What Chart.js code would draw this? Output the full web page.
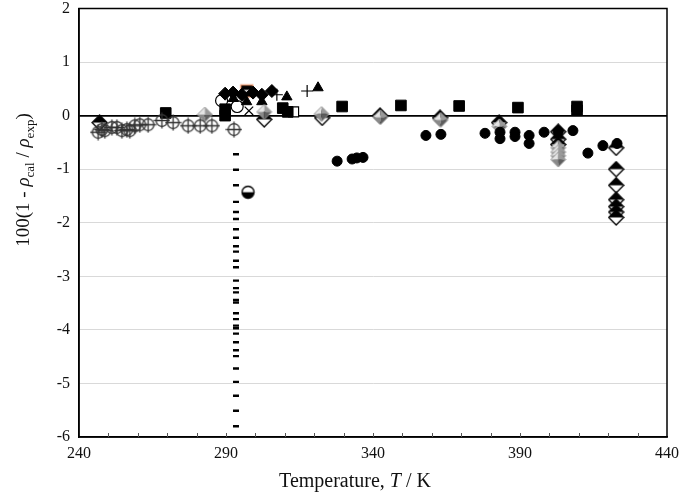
<!DOCTYPE html>
<html>
<head>
<meta charset="utf-8">
<script src="https://cdn.jsdelivr.net/npm/chart.js@4"></script>
<style>
  html, body { margin: 0; padding: 0; background: #fff; }
  #wrap { width: 679px; height: 496px; }
</style>
</head>
<body>
<div id="wrap"><canvas id="myChart" width="679" height="496"></canvas></div>
<script>
// axis ticks
var xTicks = [240, 290, 340, 390, 440];
var yTicks = [-6, -5, -4, -3, -2, -1, 0, 1, 2];

// crossed circles
var crossT = [246.5, 247.8, 248.8, 251.2, 252.9, 254.6, 256.3, 257.3, 259.0, 260.7, 263.5, 268.2, 272.0, 277.1, 281.2, 285.2, 292.7];
var crossDev = [-0.31, -0.26, -0.28, -0.22, -0.22, -0.28, -0.26, -0.28, -0.19, -0.17, -0.17, -0.09, -0.13, -0.19, -0.19, -0.19, -0.26];

// diamonds, top half black
var halfDiaT = [247, 303, 322.7, 342.4, 362.8, 382.9, 403, 403, 403, 422.7, 422.7, 422.7, 422.7, 422.7, 422.7, 422.7];
var halfDiaDev = [-0.13, -0.07, -0.04, 0.0, -0.04, -0.13, -0.3, -0.44, -0.54, -0.6, -1.0, -1.3, -1.57, -1.7, -1.8, -1.9];

// grey shaded diamonds
var greyDiaT = [282.8, 303, 322.5, 342.5, 363, 383, 403, 403, 403, 403];
var greyDiaDev = [0.02, 0.07, 0.03, -0.03, -0.08, -0.2, -0.6, -0.68, -0.75, -0.82];

// filled squares
var squareT = [269.5, 289.7, 289.7, 309.3, 311, 329.5, 349.5, 369.3, 389.3, 409.4, 409.4];
var squareDev = [0.05, 0.0, 0.12, 0.14, 0.07, 0.17, 0.19, 0.18, 0.15, 0.1, 0.17];

// open square
var openSqT = [313];
var openSqDev = [0.07];

// filled diamonds
var diaT = [289.7, 292.4, 295.4, 299.2, 302.2, 305.6];
var diaDev = [0.41, 0.43, 0.39, 0.43, 0.39, 0.46];

// triangles
var triT = [292.5, 297, 302.2, 310.7, 321.3];
var triDev = [0.32, 0.26, 0.26, 0.35, 0.52];

// plus and x
var plusT = [307.3, 317.6];
var plusDev = [0.39, 0.46];
var xT = [297.8];
var xDev = [0.09];

// open circles, half circle, orange marker
var openCirT = [288.5, 293.8];
var openCirDev = [0.28, 0.17];
var halfCirT = [297.5];
var halfCirDev = [-1.43];
var orangeT = [297.1];
var orangeDev = [0.46];

// filled circles
var circleT = [327.8, 332.9, 334.5, 336.6, 358, 363.1, 378.1, 383.2, 383.2, 388.3, 388.3, 393.1, 393.1, 398.2, 403, 408, 413.1, 418.2, 423];
var circleDev = [-0.85, -0.81, -0.79, -0.78, -0.37, -0.35, -0.33, -0.31, -0.43, -0.31, -0.39, -0.37, -0.52, -0.31, -0.3, -0.28, -0.7, -0.56, -0.52];

// dashes
var dashT = [293.4, 293.4, 293.4, 293.4, 293.4, 293.4, 293.4, 293.4, 293.4, 293.4, 293.4, 293.4, 293.4, 293.4, 293.4,
             293.4, 293.4, 293.4, 293.4, 293.4, 293.4, 293.4, 293.4, 293.4, 293.4, 293.4, 293.4, 293.4, 293.4, 293.4];
var dashDev = [-0.72, -1.01, -1.30, -1.61, -1.80, -1.93, -2.12, -2.28, -2.44, -2.54, -2.71, -2.83, -3.08, -3.22, -3.30,
               -3.44, -3.49, -3.69, -3.80, -3.92, -3.97, -4.07, -4.23, -4.38, -4.49, -4.72, -4.97, -5.23, -5.51, -5.80];

function pts(ts, ds) {
    return ts.map(function (t, i) { return {x: t, y: ds[i]}; });
}

function marker(size, draw) {
    var c = document.createElement('canvas');
    c.width = size; c.height = size;
    draw(c.getContext('2d'), size / 2, size);
    return c;
}

var crossCircle = marker(17, function (g, c, s) {
    g.strokeStyle = '#333';
    g.lineWidth = 1.3;
    g.beginPath(); g.arc(c, c, 5.8, 0, Math.PI * 2); g.stroke();
    g.beginPath();
    g.moveTo(0.5, c); g.lineTo(s - 0.5, c);
    g.moveTo(c, 0.5); g.lineTo(c, s - 0.5);
    g.stroke();
});

function diamondPath(g, c, s) {
    g.beginPath();
    g.moveTo(c, 1); g.lineTo(s - 1, c); g.lineTo(c, s - 1); g.lineTo(1, c); g.closePath();
}

var halfDiamond = marker(17, function (g, c, s) {
    diamondPath(g, c, s);
    g.fillStyle = '#fff'; g.fill();
    g.beginPath();
    g.moveTo(c, 1); g.lineTo(s - 1, c); g.lineTo(1, c); g.closePath();
    g.fillStyle = '#000'; g.fill();
    diamondPath(g, c, s);
    g.strokeStyle = '#000'; g.lineWidth = 1.3; g.stroke();
});

var greyDiamond = marker(17, function (g, c, s) {
    var facets = [
        [[c, 1], [1, c], '#e4e4e4'],
        [[c, 1], [s - 1, c], '#9a9a9a'],
        [[1, c], [c, s - 1], '#8a8a8a'],
        [[s - 1, c], [c, s - 1], '#5e5e5e']
    ];
    facets.forEach(function (f) {
        g.beginPath();
        g.moveTo(f[0][0], f[0][1]); g.lineTo(f[1][0], f[1][1]); g.lineTo(c, c); g.closePath();
        g.fillStyle = f[2]; g.fill();
    });
    diamondPath(g, c, s);
    g.strokeStyle = '#9a9a9a'; g.lineWidth = 1; g.stroke();
});

var halfCircle = marker(15, function (g, c) {
    g.beginPath(); g.arc(c, c, 6, 0, Math.PI * 2);
    g.fillStyle = '#fff'; g.fill();
    g.beginPath(); g.arc(c, c, 6, 0, Math.PI); g.closePath();
    g.fillStyle = '#000'; g.fill();
    g.beginPath(); g.arc(c, c, 6, 0, Math.PI * 2);
    g.strokeStyle = '#000'; g.lineWidth = 1.3; g.stroke();
});

var orangeMark = marker(15, function (g, c, s) {
    g.fillStyle = '#000';
    g.fillRect(2, 2, s - 4, s - 4);
    g.fillStyle = '#fff';
    g.fillRect(4, c - 1, s - 8, 2);
    g.strokeStyle = '#e8946a'; g.lineWidth = 1.2;
    g.strokeRect(1.5, 1.5, s - 3, s - 3);
});

var datasets = [
    { data: pts(dashT, dashDev), pointStyle: 'line', pointRadius: 3, borderWidth: 2.4, borderColor: '#000' },
    { data: pts(crossT, crossDev), pointStyle: crossCircle },
    { data: pts(circleT, circleDev), pointStyle: 'circle', pointRadius: 5, backgroundColor: '#000', borderColor: '#000', borderWidth: 1 },
    { data: pts(greyDiaT, greyDiaDev), pointStyle: greyDiamond },
    { data: pts(halfDiaT, halfDiaDev), pointStyle: halfDiamond },
    { data: pts(squareT, squareDev), pointStyle: 'rect', pointRadius: 7.5, backgroundColor: '#000', borderColor: '#000', borderWidth: 1 },
    { data: pts(openSqT, openSqDev), pointStyle: 'rect', pointRadius: 7, backgroundColor: '#fff', borderColor: '#000', borderWidth: 1.2 },
    { data: pts(openCirT, openCirDev), pointStyle: 'circle', pointRadius: 6, backgroundColor: 'rgba(255,255,255,0)', borderColor: '#000', borderWidth: 1.2 },
    { data: pts(triT, triDev), pointStyle: 'triangle', pointRadius: 6, backgroundColor: '#000', borderColor: '#000', borderWidth: 1 },
    { data: pts(diaT, diaDev), pointStyle: 'rectRot', pointRadius: 6.5, backgroundColor: '#000', borderColor: '#000', borderWidth: 1 },
    { data: pts(plusT, plusDev), pointStyle: 'cross', pointRadius: 6, borderColor: '#000', borderWidth: 1.2 },
    { data: pts(xT, xDev), pointStyle: 'crossRot', pointRadius: 6, borderColor: '#000', borderWidth: 1.2 },
    { data: pts(halfCirT, halfCirDev), pointStyle: halfCircle },
    { data: pts(orangeT, orangeDev), pointStyle: orangeMark }
];

var frame = {
    id: 'frame',
    beforeDatasetsDraw: function (chart) {
        var ctx = chart.ctx, a = chart.chartArea, x = chart.scales.x;
        ctx.save();
        ctx.strokeStyle = '#000';
        ctx.lineWidth = 1.5;
        ctx.strokeRect(a.left, a.top, a.right - a.left, a.bottom - a.top);
        ctx.lineWidth = 1;
        ctx.strokeStyle = '#555';
        for (var t = 250; t < 440; t += 10) {
            var px = Math.round(x.getPixelForValue(t)) + 0.5;
            ctx.beginPath(); ctx.moveTo(px, a.bottom); ctx.lineTo(px, a.bottom - 4); ctx.stroke();
        }
        ctx.restore();
    },
    afterDraw: function (chart) {
        var ctx = chart.ctx;
        ctx.save();
        ctx.fillStyle = '#111';
        ctx.textBaseline = 'alphabetic';
        // x title
        var parts = [['Temperature, ', '20px "Liberation Serif"', 0], ['T', 'italic 20px "Liberation Serif"', 0], [' / K', '20px "Liberation Serif"', 0]];
        drawParts(ctx, parts, 355, 487);
        // y title
        ctx.translate(22, 180);
        ctx.rotate(-Math.PI / 2);
        var yparts = [
            ['100(1 - ', '19px "Liberation Serif"', 0],
            ['\u03C1', 'italic 19px "Liberation Serif"', 0],
            ['cal', '13px "Liberation Serif"', 5],
            [' / ', '19px "Liberation Serif"', 0],
            ['\u03C1', 'italic 19px "Liberation Serif"', 0],
            ['exp', '13px "Liberation Serif"', 5],
            [')', '19px "Liberation Serif"', 0]
        ];
        drawParts(ctx, yparts, 0, 7);
        ctx.restore();
    }
};

function drawParts(ctx, parts, cx, baseY) {
    var total = 0;
    parts.forEach(function (p) { ctx.font = p[1]; total += ctx.measureText(p[0]).width; });
    var px = cx - total / 2;
    parts.forEach(function (p) {
        ctx.font = p[1];
        ctx.fillText(p[0], px, baseY + p[2]);
        px += ctx.measureText(p[0]).width;
    });
}

var ctx = document.getElementById('myChart').getContext('2d');
var myChart = new Chart(ctx, {
    type: 'scatter',
    data: { datasets: datasets },
    options: {
        responsive: false,
        animation: false,
        layout: { padding: { top: 4, right: 12, left: 0, bottom: 0 } },
        plugins: {
            legend: { display: false },
            tooltip: { enabled: false }
        },
        elements: { point: { radius: 6, hoverRadius: 6 } },
        scales: {
            x: {
                type: 'linear',
                min: 240,
                max: 440,
                afterBuildTicks: function (scale) { scale.ticks = xTicks.map(function (v) { return {value: v}; }); },
                afterFit: function (scale) {
                    scale.height = 59;
                    scale.paddingLeft = 0;
                    scale.paddingRight = 0;
                },
                grid: { display: false, drawTicks: false },
                border: { color: '#000', width: 1.5 },
                ticks: { padding: 7, color: '#111', font: { family: 'Liberation Serif', size: 16 }, maxRotation: 0 }
            },
            y: {
                min: -6,
                max: 2,
                afterBuildTicks: function (scale) { scale.ticks = yTicks.map(function (v) { return {value: v}; }); },
                afterFit: function (scale) {
                    scale.width = 79;
                    scale.paddingTop = 0;
                    scale.paddingBottom = 0;
                },
                grid: {
                    drawTicks: false,
                    color: function (c) { return c.tick && c.tick.value === 0 ? '#000' : '#d9d9d9'; },
                    lineWidth: function (c) { return c.tick && c.tick.value === 0 ? 1.8 : 1; }
                },
                border: { color: '#000', width: 1.5 },
                ticks: { padding: 9, color: '#111', font: { family: 'Liberation Serif', size: 16, lineHeight: 0.4 } }
            }
        }
    },
    plugins: [frame]
});
</script>
</body>
</html>
